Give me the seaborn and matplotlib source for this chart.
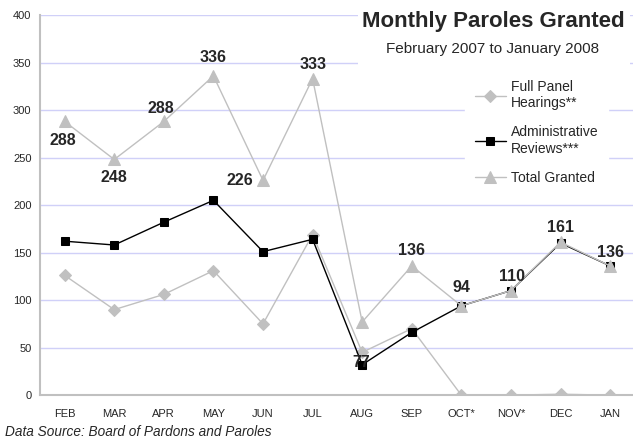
import pandas as pd
import numpy as np
import seaborn as sns
import matplotlib.pyplot as plt
from matplotlib.patches import Rectangle

# Chart values
months = ["FEB", "MAR", "APR", "MAY", "JUN", "JUL", "AUG", "SEP", "OCT*", "NOV*", "DEC", "JAN"]
full_panel = [126, 90, 106, 131, 75, 169, 45, 70, 0, 0, 1, 0]
admin_reviews = [162, 158, 182, 205, 151, 164, 32, 66, 94, 110, 160, 136]
total_granted = [288, 248, 288, 336, 226, 333, 77, 136, 94, 110, 161, 136]

# label placement for the total series, in pixels (dx, dy)
label_offsets = [(-2, -19), (0, -18), (-3, 13), (0, 18), (-23, 0), (0, 14),
                 (-1, -41), (0, 15), (0, 18), (1, 14), (0, 15), (0, 13)]

sns.set_style("white")
plt.rcParams['font.family'] = ['Liberation Sans', 'DejaVu Sans']

df = pd.DataFrame({"x": np.arange(len(months)), "full": full_panel,
                   "admin": admin_reviews, "total": total_granted})

fig = plt.figure(figsize=(6.33, 4.42), dpi=100)
ax = fig.add_axes([0.063, 0.106, 0.94, 0.86])

light = "#C0C0C0"
sns.lineplot(data=df, x="x", y="full", ax=ax, color=light, lw=1, marker="D",
             markersize=6, markeredgecolor=light, label="Full Panel\nHearings**")
sns.lineplot(data=df, x="x", y="admin", ax=ax, color="black", lw=1, marker="s",
             markersize=5.5, markeredgecolor="black", label="Administrative\nReviews***")
sns.lineplot(data=df, x="x", y="total", ax=ax, color=light, lw=1, marker="^",
             markersize=8, markeredgecolor=light, label="Total Granted")

for i, v in enumerate(total_granted):
    dx, dy = label_offsets[i]
    ax.annotate(str(v), (i, v), xytext=(dx * 0.72, dy * 0.72), textcoords="offset points",
                ha="center", va="center", fontsize=11.5, fontweight="bold")

ax.set_xlim(-0.5, 11.5)
ax.set_ylim(0, 400)
ax.set_yticks(range(0, 401, 50))
ax.set_xticks(range(len(months)))
ax.set_xticklabels(months)
ax.set_xticks(np.arange(-0.5, 12, 1), minor=True)
ax.tick_params(axis="x", which="major", length=0, pad=10, labelsize=8)
ax.tick_params(axis="x", which="minor", length=4, color="#C0C0C0")
ax.tick_params(axis="y", length=0, labelsize=8, pad=6)
ax.set_xlabel("")
ax.set_ylabel("")
ax.grid(axis="y", color="#D0D0F8", lw=1)
ax.set_axisbelow(True)
for s in ["top", "right"]:
    ax.spines[s].set_visible(False)
for s in ["left", "bottom"]:
    ax.spines[s].set_color("#C0C0C0")
    ax.spines[s].set_linewidth(1.5)

leg = ax.legend(loc="upper left", bbox_to_anchor=(0.715, 0.855), frameon=True,
                fontsize=10, handlelength=2.2, handletextpad=0.4,
                labelspacing=1.1, borderpad=0.7, borderaxespad=0)
leg.get_frame().set_edgecolor("white")
leg.get_frame().set_facecolor("white")
leg.get_frame().set_alpha(1)
leg.get_frame().set_boxstyle("square", pad=0)

# white block behind the title, as in the reference
fig.add_artist(Rectangle((358 / 633, 1 - 70 / 442), 272 / 633, 70 / 442,
                         transform=fig.transFigure, facecolor="white",
                         edgecolor="none"))
fig.text(493 / 633, 1 - 22 / 442, "Monthly Paroles Granted", ha="center",
         va="center", fontsize=16, fontweight="bold")
fig.text(493 / 633, 1 - 49 / 442, "February 2007 to January 2008", ha="center",
         va="center", fontsize=11)
fig.text(0.008, 1 - 432 / 442, "Data Source: Board of Pardons and Paroles",
         fontsize=9.8, style="italic", va="center")

fig.savefig("out.png", dpi=100)
